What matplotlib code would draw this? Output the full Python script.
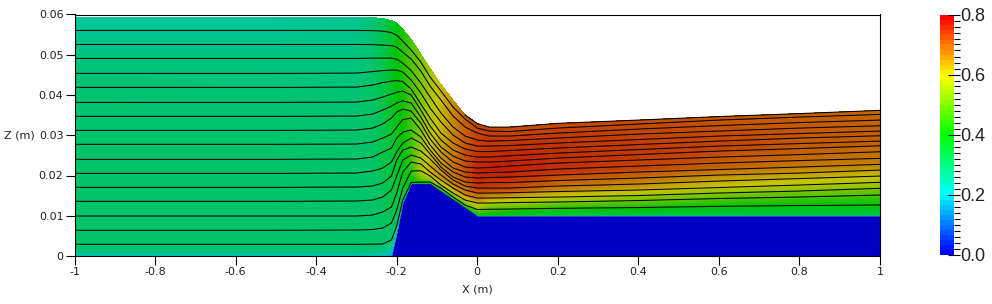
import matplotlib
matplotlib.use('Agg')
import matplotlib.pyplot as plt
import matplotlib.tri as mtri
from matplotlib.cm import ScalarMappable
from matplotlib.colors import LinearSegmentedColormap, Normalize
import numpy as np

# stations along the channel (m), heights below are in mm
stations = [-1.0, -0.5, -0.3, -0.26, -0.235, -0.213, -0.2, -0.185, -0.164, -0.14, -0.117,
            -0.09, -0.06, -0.03, 0.0, 0.03, 0.08, 0.2, 0.4, 0.6, 0.8, 1.0]

bed_mm = [0, 0, 0, 0, 0, 0, 5.7, 13.2, 18, 18, 18, 16.15, 14.1, 12.05, 10, 10, 10, 10, 10, 10, 10, 10]

surface_mm = [59.27, 59.27, 59.27, 59.22, 59.02, 58.47, 57.98, 56.36, 53.76, 50.16, 46.56,
              42.58, 38.73, 35.01, 32.9, 32.03, 32.03, 32.95, 33.77, 34.64, 35.38, 36.18]

# the 16 black lines, top one first
lines_mm = [
    [56.04, 56.04, 56.04, 55.99, 55.87, 55.5, 54.87, 53.38, 51.15, 48.17, 44.45, 40.97, 37.0, 34.02, 31.78, 31.04, 30.91, 31.78, 32.78, 33.77, 34.51, 35.18],
    [52.56, 52.56, 52.56, 52.51, 52.39, 52.27, 51.89, 50.65, 48.91, 45.94, 42.21, 38.73, 34.76, 32.03, 30.54, 29.8, 29.8, 30.54, 31.53, 32.4, 33.15, 33.77],
    [49.09, 49.09, 49.09, 49.16, 49.16, 49.16, 48.91, 47.92, 46.06, 42.96, 39.48, 35.51, 32.03, 29.8, 28.8, 28.55, 28.68, 29.3, 30.29, 31.04, 31.78, 32.35],
    [45.36, 45.36, 45.44, 45.81, 46.06, 46.18, 46.18, 45.69, 43.7, 40.47, 36.75, 33.27, 30.04, 28.06, 27.31, 27.31, 27.44, 28.06, 28.93, 29.8, 30.42, 31.04],
    [41.89, 41.89, 41.96, 42.46, 43.08, 43.45, 43.58, 43.33, 41.47, 37.74, 34.27, 30.54, 28.06, 26.57, 25.95, 25.95, 26.2, 26.82, 27.69, 28.55, 29.3, 29.87],
    [38.16, 38.16, 38.24, 38.73, 39.48, 40.22, 40.72, 40.97, 39.98, 36.25, 32.28, 28.8, 26.32, 25.08, 24.58, 24.58, 24.9, 25.57, 26.44, 27.31, 27.93, 28.55],
    [34.69, 34.69, 34.76, 35.26, 36.25, 37.25, 37.99, 38.56, 37.99, 34.51, 30.54, 27.06, 24.83, 23.59, 23.34, 23.34, 23.59, 24.33, 25.2, 26.07, 26.69, 27.39],
    [31.21, 31.21, 31.29, 31.78, 32.78, 34.27, 35.76, 36.5, 36.0, 33.02, 29.05, 25.82, 23.34, 22.1, 21.85, 21.97, 22.35, 23.09, 23.84, 24.58, 25.2, 25.9],
    [27.74, 27.74, 27.81, 28.31, 29.3, 30.29, 32.03, 33.89, 34.27, 31.29, 27.56, 24.33, 21.85, 20.86, 20.61, 20.73, 20.86, 21.6, 22.35, 23.09, 23.71, 24.26],
    [24.01, 24.01, 24.09, 24.58, 25.82, 26.82, 29.3, 30.79, 31.29, 29.55, 26.32, 23.09, 20.86, 19.62, 19.37, 19.49, 19.62, 20.11, 20.86, 21.48, 22.1, 22.77],
    [20.53, 20.53, 20.61, 21.11, 21.85, 23.34, 25.82, 28.06, 29.3, 28.06, 25.33, 22.1, 19.62, 18.37, 18.13, 18.25, 18.25, 18.75, 19.37, 20.11, 20.61, 21.35],
    [17.06, 17.06, 17.13, 17.38, 18.13, 19.86, 23.84, 26.32, 27.06, 26.07, 24.09, 21.35, 18.87, 17.38, 16.88, 16.88, 16.88, 17.38, 17.88, 18.62, 19.24, 19.86],
    [13.58, 13.58, 13.66, 13.9, 14.65, 16.39, 19.86, 23.84, 25.08, 24.33, 22.35, 20.11, 17.88, 16.39, 15.64, 15.64, 15.72, 16.02, 16.39, 17.01, 17.63, 18.3],
    [9.93, 9.93, 9.93, 10.18, 10.93, 12.17, 15.64, 20.86, 23.34, 22.84, 20.86, 18.87, 16.88, 15.15, 14.4, 14.4, 14.48, 14.65, 15.02, 15.64, 16.14, 16.81],
    [6.38, 6.38, 6.46, 6.58, 6.95, 8.19, 11.42, 16.88, 21.11, 21.18, 19.86, 17.63, 15.64, 13.9, 13.16, 13.16, 13.28, 13.41, 13.78, 14.28, 14.65, 15.15],
    [2.91, 2.91, 2.91, 2.93, 2.98, 3.97, 7.45, 13.9, 18.25, 18.37, 18.37, 16.88, 14.65, 12.66, 11.55, 11.6, 11.67, 11.84, 12.04, 12.34, 12.54, 12.66],
]

# fraction of the depth above the bed at which the colour was read
depth_fractions = [0, 0.015, 0.04, 0.08, 0.15, 0.3, 0.5, 0.7, 0.85, 1]

# one row per station, one column per depth fraction
field_values = [
    [.20, .27, .29, .29, .29, .29, .29, .285, .27, .24],
    [.20, .27, .29, .29, .29, .29, .29, .28, .27, .24],
    [.20, .27, .29, .29, .29, .29, .29, .28, .27, .25],
    [.20, .26, .29, .29, .29, .29, .30, .30, .29, .28],
    [.19, .25, .28, .29, .30, .31, .32, .32, .32, .31],
    [.17, .22, .26, .29, .31, .33, .35, .36, .36, .35],
    [.22, .25, .28, .31, .33, .36, .38, .39, .40, .38],
    [.27, .29, .32, .34, .37, .39, .41, .42, .43, .42],
    [.33, .36, .40, .43, .46, .46, .46, .47, .48, .47],
    [.36, .42, .50, .56, .57, .55, .53, .52, .52, .52],
    [.38, .44, .54, .62, .62, .60, .58, .57, .57, .56],
    [.38, .43, .52, .60, .65, .64, .62, .61, .61, .61],
    [.38, .42, .50, .60, .66, .68, .67, .66, .66, .65],
    [.38, .41, .48, .58, .66, .71, .72, .71, .70, .70],
    [.36, .40, .45, .54, .63, .74, .76, .74, .73, .73],
    [.35, .38, .42, .49, .58, .73, .77, .75, .74, .73],
    [.34, .36, .40, .47, .57, .72, .77, .76, .74, .72],
    [.32, .33, .37, .42, .54, .67, .75, .75, .74, .72],
    [.32, .33, .36, .40, .50, .64, .73, .74, .73, .72],
    [.32, .33, .35, .38, .46, .60, .70, .73, .72, .71],
    [.32, .33, .35, .37, .44, .58, .68, .71, .71, .70],
    [.32, .33, .35, .37, .43, .56, .67, .70, .70, .69],
]

x_ticks = [-1, -0.8, -0.6, -0.4, -0.2, 0, 0.2, 0.4, 0.6, 0.8, 1]
x_tick_labels = ['-1', '-0.8', '-0.6', '-0.4', '-0.2', '0', '0.2', '0.4', '0.6', '0.8', '1']
z_ticks = [0, 0.01, 0.02, 0.03, 0.04, 0.05, 0.06]
z_tick_labels = ['0', '0.01', '0.02', '0.03', '0.04', '0.05', '0.06']
bar_ticks = [0, 0.2, 0.4, 0.6, 0.8]
bar_tick_labels = ['0.0', '0.2', '0.4', '0.6', '0.8']

W, H = 992, 304
TEXT = '#222222'

stops = ['#0000ff', '#00ffff', '#00ff00', '#ffff00', '#ff0000']
bright = LinearSegmentedColormap.from_list('bar', stops, N=48)
# the plot itself is shaded darker than the colour bar
shade = 0.77
dark = LinearSegmentedColormap.from_list(
    'field', [tuple(shade * c for c in matplotlib.colors.to_rgb(s)) for s in stops], N=256)

fig = plt.figure(figsize=(W / 100, H / 100), dpi=100)
ax = fig.add_axes([74.5 / W, 1 - 256 / H, 805.5 / W, 241.5 / H])

x = np.array(stations)
bed = np.array(bed_mm) / 1000
surface = np.array(surface_mm) / 1000
fr = np.array(depth_fractions)

# mesh between bed and free surface
xx = np.repeat(x[:, None], len(fr), axis=1)
zz = bed[:, None] + fr[None, :] * (surface - bed)[:, None]
vv = np.array(field_values)

n_x, n_z = xx.shape
triangles = []
for i in range(n_x - 1):
    for j in range(n_z - 1):
        a = i * n_z + j
        b = (i + 1) * n_z + j
        triangles.append([a, b, b + 1])
        triangles.append([a, b + 1, a + 1])
mesh = mtri.Triangulation(xx.ravel(), zz.ravel(), triangles)

ax.tricontourf(mesh, vv.ravel(), levels=np.linspace(0, 0.8, 161), cmap=dark, vmin=0, vmax=0.8,
               antialiased=False)
ax.fill_between(x, 0, bed, color=dark(0.0), lw=0, antialiased=False)

for line in lines_mm:
    ax.plot(x, np.array(line) / 1000, color='black', lw=0.75)
# the black edge only runs along the surface past the drop
ax.plot(x[13:], surface[13:], color='black', lw=0.75)

ax.set_xlim(-1, 1)
ax.set_ylim(0, 0.06)
ax.set_xticks(x_ticks)
ax.set_xticklabels(x_tick_labels)
ax.set_yticks(z_ticks)
ax.set_yticklabels(z_tick_labels)
ax.tick_params(length=6.5, width=0.8, labelsize=8, labelcolor=TEXT, pad=1.5)
ax.set_xlabel('X (m)', fontsize=8, color=TEXT, labelpad=5.5)
ax.set_ylabel('Z (m)', fontsize=8, color=TEXT, rotation=0, ha='center', va='center')
ax.yaxis.set_label_coords((19 - 74.5) / 805.5, 0.5)
for s in ax.spines.values():
    s.set_linewidth(0.8)

cax = fig.add_axes([940 / W, 1 - 254.5 / H, 14 / W, 240 / H])
sm = ScalarMappable(norm=Normalize(0, 0.8), cmap=bright)
cb = fig.colorbar(sm, cax=cax)
cb.outline.set_visible(False)
cb.set_ticks(bar_ticks)
cb.set_ticklabels(bar_tick_labels)
cb.set_ticks(np.arange(0, 0.81, 0.02), minor=True)
cax.tick_params(which='major', direction='inout', length=8.5, width=0.8, labelsize=13,
                labelcolor=TEXT, pad=0.5, labelfontfamily='Liberation Sans')
cax.tick_params(which='minor', direction='out', length=4.3, width=0.8)

fig.savefig('out.png', dpi=100)
